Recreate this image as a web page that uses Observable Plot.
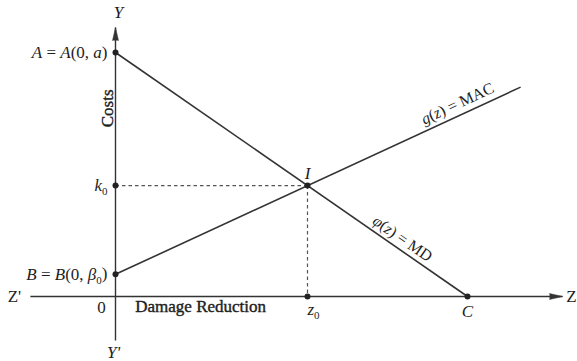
<!DOCTYPE html>
<html>
<head>
<meta charset="utf-8">
<script src="https://cdn.jsdelivr.net/npm/d3@7"></script>
<script src="https://cdn.jsdelivr.net/npm/@observablehq/plot@0.6"></script>
<style>
  html, body { margin: 0; padding: 0; background: #fff; }
  svg { display: block; }
</style>
</head>
<body>
<div id="chart"></div>
<script>
// ---- data (diagram units) ----
// axes extents
const zAxisZ = [-2.66, 13.97];          // Z' ... Z (horizontal axis)
const yAxisY = [-1.98, 12.13];          // Y' ... Y (vertical axis)
// lines
const mdZ  = [0, 11];                   // φ(z) = MD : from A to C
const mdY  = [11, 0];
const macZ = [0, 12.66];                // g(z) = MAC : from B upward
const macY = [1, 9.44];
// marked points
const pointNames  = ["A", "k0", "B", "I", "z0", "C"];
const pointZ      = [0, 0, 0, 6, 6, 11];
const pointY      = [11, 5, 1, 5, 0, 0];
const pointLabels = ["A = A(0, a)", "k₀", "B = B(0, β₀)", "I", "z₀", "C"];
// dashed projection of I
const dashZ = [[0, 6], [6, 6]];
const dashY = [[5, 5], [5, 0]];
// axis names
const axisNames = ["Y", "Y'", "Z'", "Z", "0"];
const axisNameZ = [0.09, -0.06, -3.16, 14.25, -0.44];
const axisNameY = [12.80, -2.52, 0.0, 0.0, -0.50];
const axisNameItalic = [true, true, false, false, false];
// axis titles
const titleText = ["Costs", "Damage Reduction"];
const titleZ = [-0.25, 2.66];
const titleY = [8.48, -0.45];
// curve labels
const curveText = ["g(z) = MAC", "φ(z) = MD"];
const curveZ = [10.69, 8.97];
const curveY = [8.70, 2.61];

// ---- build tables ----
const points = pointNames.map((n, i) => ({name: n, z: pointZ[i], y: pointY[i], label: pointLabels[i]}));
const segs = [
  {z1: zAxisZ[0], y1: 0, z2: zAxisZ[1], y2: 0},
  {z1: 0, y1: yAxisY[0], z2: 0, y2: yAxisY[1]}
];
const lines = [
  {z1: mdZ[0], y1: mdY[0], z2: mdZ[1], y2: mdY[1]},
  {z1: macZ[0], y1: macY[0], z2: macZ[1], y2: macY[1]}
];
const dashes = dashZ.map((zz, i) => ({z1: zz[0], z2: zz[1], y1: dashY[i][0], y2: dashY[i][1]}));
const arrows = [
  {z: 0, y: yAxisY[1], rot: 0},
  {z: zAxisZ[1], y: 0, rot: 90}
];
const names = axisNames.map((t, i) => ({t, z: axisNameZ[i], y: axisNameY[i], it: axisNameItalic[i]}));
const titles = titleText.map((t, i) => ({t, z: titleZ[i], y: titleY[i], rot: i === 0 ? -90 : 0}));
const curves = curveText.map((t, i) => ({t, z: curveZ[i], y: curveY[i], rot: i === 0 ? -24.9 : 34.7}));

const ink = "#333";
const serif = "'Liberation Serif', 'Times New Roman', serif";
const W = 577, H = 361;
const ox = 115, oy = 296, ux = 32, uy = 244 / 11;

const labelPts = points.filter(d => ["A", "k0", "B"].includes(d.name));
const txt = {fontSize: 17, fill: "#1e1e1e"};

const chart = Plot.plot({
  width: W,
  height: H,
  margin: 0,
  style: {background: "#fff", fontFamily: serif},
  x: {domain: [-ox / ux, (W - ox) / ux], axis: null},
  y: {domain: [-(H - oy) / uy, oy / uy], axis: null},
  marks: [
    Plot.link(dashes, {x1: "z1", y1: "y1", x2: "z2", y2: "y2", stroke: "#555", strokeWidth: 1.2, strokeDasharray: "3.5,3"}),
    Plot.link(segs, {x1: "z1", y1: "y1", x2: "z2", y2: "y2", stroke: ink, strokeWidth: 1.4}),
    Plot.link(lines, {x1: "z1", y1: "y1", x2: "z2", y2: "y2", stroke: ink, strokeWidth: 1.6}),
    Plot.vector(arrows, {x: "z", y: "y", rotate: "rot", length: 13, r: 3, shape: "spike", anchor: "end",
      fill: ink, stroke: ink, strokeWidth: 0.5, fillOpacity: 1}),
    Plot.dot(points, {x: "z", y: "y", r: 3, fill: "#222", stroke: "none"}),
    Plot.text(labelPts, {x: "z", y: "y", text: "label", textAnchor: "end", dx: -8, ...txt}),
    Plot.text(points.filter(d => d.name === "I"), {x: "z", y: "y", text: "label", dy: -12, ...txt}),
    Plot.text(points.filter(d => d.name === "z0"), {x: "z", y: "y", text: "label", dx: 6, dy: 13, ...txt}),
    Plot.text(points.filter(d => d.name === "C"), {x: "z", y: "y", text: "label", dy: 15, ...txt}),
    Plot.text(names.filter(d => d.it), {x: "z", y: "y", text: "t", fontStyle: "italic", ...txt}),
    Plot.text(names.filter(d => !d.it), {x: "z", y: "y", text: "t", ...txt}),
    Plot.text(titles, {x: "z", y: "y", text: "t", rotate: "rot", ...txt, stroke: "#1e1e1e", strokeWidth: 0.4}),
    Plot.text(curves, {x: "z", y: "y", text: "t", rotate: "rot", fontSize: 16, fill: "#1e1e1e"})
  ]
});

// mixed styling: single letters italic, upper-case words upright, "₀" as subscript
const mixed = new Set([...pointLabels, ...curveText]);
d3.select(chart).selectAll("text").each(function () {
  const s = this.textContent;
  if (!mixed.has(s)) return;
  const el = d3.select(this);
  el.text(null);
  const re = /([A-Z]{2,})|([A-Za-zα-ωφ])|(₀)|([^A-Za-zα-ωφ₀]+)/g;
  let m, shifted = false;
  while ((m = re.exec(s)) !== null) {
    const t = el.append("tspan");
    if (shifted) { t.attr("dy", "-0.25em"); shifted = false; }
    if (m[1]) t.text(m[1]);
    else if (m[2]) t.text(m[2]).attr("font-style", "italic");
    else if (m[3]) { t.text("0").attr("font-size", 11).attr("dy", "0.35em"); shifted = true; }
    else t.text(m[4]);
  }
});
document.getElementById("chart").appendChild(chart);
</script>
</body>
</html>
